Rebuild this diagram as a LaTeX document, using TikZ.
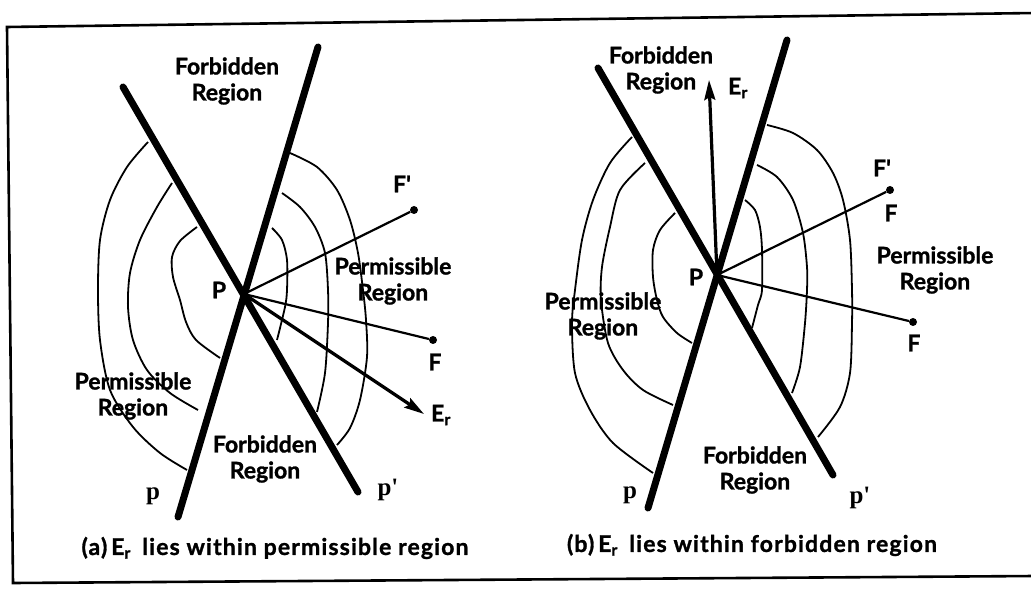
\documentclass[tikz,border=0pt]{standalone}
\usepackage{fontspec}
\newfontfamily\lab{Lato}[BoldFeatures={FakeBold=1.2}]
\newfontfamily\serlab{Liberation Serif}
\usetikzlibrary{arrows.meta}
\tikzset{
  boundary/.style={line width=7pt, line cap=round},
  contour/.style={line width=1.8pt},
  ray/.style={line width=2.2pt},
  fieldarrow/.style={line width=3.2pt, -{Stealth[length=20pt,width=11pt,inset=3pt]}},
  dot/.style={circle, fill=black, inner sep=0pt, minimum size=8pt},
  txt/.style={font=\lab\bfseries\fontsize{23}{26}\selectfont, align=center, inner sep=0pt},
  captxt/.style={font=\lab\bfseries\fontsize{23}{26}\selectfont\addfontfeature{LetterSpace=5}, inner sep=0pt},
  ptxt/.style={font=\serlab\bfseries\fontsize{25}{25}\selectfont, inner sep=0pt},
  frame/.style={line width=2.6pt}
}
\begin{document}
\begin{tikzpicture}[x=1pt,y=-1pt]
\useasboundingbox (0,0) rectangle (1031,593);
% frame
\draw[frame] (1035,13) -- (7,27) -- (13,583) -- (1035,576);

% ================= panel (a) =================
\coordinate (P1) at (244,294);
\coordinate (a1) at (123,87);
\coordinate (b1) at (358,492);
\coordinate (c1) at (318,47);
\coordinate (d1) at (178,517);
% contours, left side
\draw[contour] plot[smooth] coordinates {(148,142) (127,167) (110,200) (100,240) (98,290) (100,340) (110,390) (133,427) (160,453) (187,470)};
\draw[contour] plot[smooth] coordinates {(172,183) (157,207) (140,240) (130,273) (128,307) (133,340) (147,370) (170,393) (198,410)};
\draw[contour] plot[smooth] coordinates {(197,227) (180,241) (172,257) (173,277) (180,300) (186,322) (196,340) (220,358)};
% contours, right side
\draw[contour] plot[smooth] coordinates {(290,153) (317,167) (337,190) (350,220) (358,253) (363,290) (366,320) (367,357) (360,400) (350,428) (337,445)};
\draw[contour] plot[smooth] coordinates {(282,193) (300,207) (315,227) (325,253) (328,290) (328,323) (325,373) (317,412)};
\draw[contour] plot[smooth] coordinates {(272,228) (282,240) (287,260) (287,290) (285,307) (277,340)};
% boundary lines
\draw[boundary] (a1) -- (b1);
\draw[boundary] (c1) -- (d1);
% rays
\node[dot] (Fp1) at (414,210) {};
\node[dot] (F1) at (433,340) {};
\coordinate (E1) at (424,414);
\draw[ray] (P1) -- (Fp1);
\draw[ray] (P1) -- (F1);
\draw[fieldarrow] (P1) -- (E1);
% labels
\node[txt] (t1) at (227,81) {Forbidden\\Region};
\node[txt] (t2) at (393,281) {Permissible\\Region};
\node[txt] (t3) at (133,396) {Permissible\\Region};
\node[txt] (t4) at (265,459) {Forbidden\\Region};
\node[txt] (lP1) at (219,290) {P};
\node[txt] (lFp1) at (402,184) {F'};
\node[txt] (lF1) at (435,362) {F};
\node[txt] (lE1) at (441,415) {E\textsubscript{r}};
\node[ptxt] (lp1) at (153,496) {p};
\node[ptxt] (lpp1) at (388,490) {p'};
\node[captxt] (cap1) at (275,548) {(a)\,E\textsubscript{r}\enspace lies within permissible region};

% ================= panel (b) =================
\coordinate (P2) at (717,275);
\coordinate (a2) at (598,68);
\coordinate (b2) at (833,475);
\coordinate (c2) at (787,40);
\coordinate (d2) at (648,508);
% contours, left side
\draw[contour] plot[smooth] coordinates {(632,137) (610,163) (593,200) (582,240) (575,290) (572,323) (575,373) (590,410) (613,443) (653,473)};
\draw[contour] plot[smooth] coordinates {(645,163) (620,190) (610,227) (602,267) (601,300) (608,343) (623,370) (643,390) (673,405)};
\draw[contour] plot[smooth] coordinates {(675,213) (660,230) (653,250) (653,277) (657,300) (663,317) (677,333) (692,343)};
% contours, right side
\draw[contour] plot[smooth] coordinates {(767,125) (793,133) (817,150) (833,173) (843,200) (850,240) (852,290) (852,323) (850,373) (840,407) (818,437)};
\draw[contour] plot[smooth] coordinates {(757,165) (777,177) (793,200) (803,233) (807,267) (807,290) (805,323) (800,367) (792,393)};
\draw[contour] plot[smooth] coordinates {(745,200) (755,210) (760,227) (762,250) (762,290) (758,305) (752,328)};
% boundary lines
\draw[boundary] (a2) -- (b2);
\draw[boundary] (c2) -- (d2);
% rays
\node[dot] (Fp2) at (890,190) {};
\node[dot] (F2) at (913,322) {};
\coordinate (E2) at (709,80);
\draw[ray] (P2) -- (Fp2);
\draw[ray] (P2) -- (F2);
\draw[fieldarrow] (P2) -- (E2);
% labels
\node[txt] (t5) at (661,70) {Forbidden\\Region};
\node[txt] (t6) at (935,270) {Permissible\\Region};
\node[txt] (t7) at (603,316) {Permissible\\Region};
\node[txt] (t8) at (755,470) {Forbidden\\Region};
\node[txt] (lP2) at (696,277) {P};
\node[txt] (lFp2) at (882,168) {F'};
\node[txt] (lF2a) at (891,213) {F};
\node[txt] (lF2) at (914,343) {F};
\node[txt] (lE2) at (738,88) {E\textsubscript{r}};
\node[ptxt] (lp2) at (630,495) {p};
\node[ptxt] (lpp2) at (860,498) {p'};
\node[captxt] (cap2) at (752,545) {(b)\,E\textsubscript{r}\enspace lies within forbidden region};
\end{tikzpicture}
\end{document}
